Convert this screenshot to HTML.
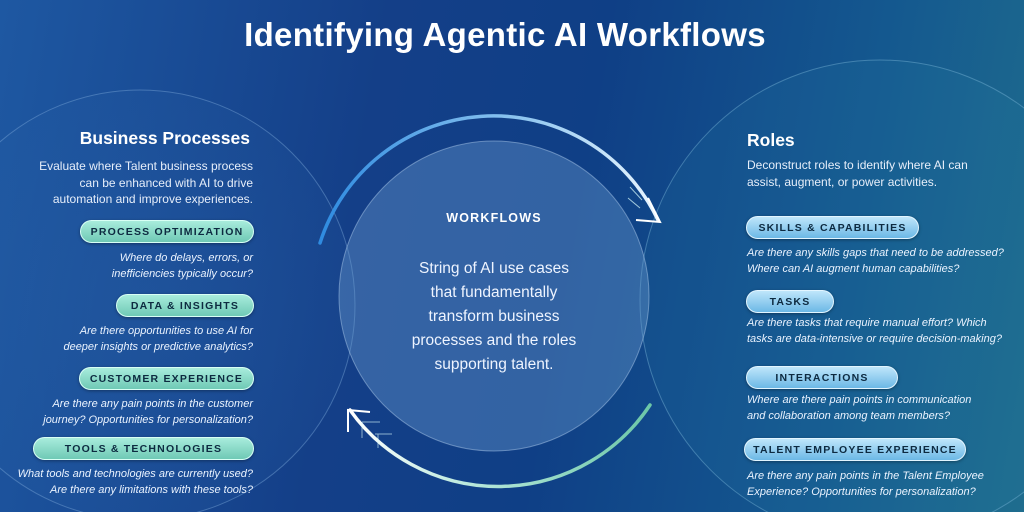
<!DOCTYPE html>
<html style="overflow:hidden;width:1024px;height:512px"><head><meta charset="utf-8"><style>
*{margin:0;padding:0;box-sizing:border-box}
body{width:1024px;height:512px;overflow:hidden;position:relative;font-family:"Liberation Sans","DejaVu Sans",sans-serif;color:#fff;
background:linear-gradient(100deg,#1e58a2 0%,#143f88 35%,#0f3f86 55%,#14588f 80%,#1f6d8e 100%);}
.t{position:absolute;white-space:nowrap}
.pill{position:absolute;height:23px;border-radius:12px;font-weight:bold;font-size:10.5px;letter-spacing:1.2px;color:#0d2a40;display:flex;align-items:center;justify-content:center;box-shadow:0 1px 3px rgba(0,0,0,.35)}
.g{background:linear-gradient(180deg,#a8ecdc,#6fc9b5);border:1.5px solid #d8fff5}
.b{background:linear-gradient(180deg,#bfe6fb,#6cb8e6);border:1.5px solid #e2f5ff}
.q{font-style:italic;font-size:11px;line-height:15.5px;color:#eaf3ff}
.r{text-align:right}
</style></head><body>
<svg width="1024" height="512" style="position:absolute;left:0;top:0">
<defs>
<linearGradient id="a1" x1="0" x2="1"><stop offset="0" stop-color="#2f8be0"/><stop offset="0.6" stop-color="#8fc6f0"/><stop offset="1" stop-color="#eaf6ff"/></linearGradient>
<linearGradient id="a2" x1="1" x2="0"><stop offset="0" stop-color="#6cc7a8"/><stop offset="0.6" stop-color="#b8e8dc"/><stop offset="1" stop-color="#ffffff"/></linearGradient>
<radialGradient id="lc" cx="0.5" cy="0.5" r="0.5"><stop offset="0" stop-color="#2a62a8" stop-opacity=".35"/><stop offset="1" stop-color="#2a62a8" stop-opacity=".15"/></radialGradient>
</defs>
<circle cx="140" cy="305" r="215" fill="url(#lc)" stroke="#7aa6d8" stroke-opacity=".45" stroke-width="1"/>
<circle cx="880" cy="300" r="240" fill="#2a7fa8" fill-opacity=".15" stroke="#7ab6d8" stroke-opacity=".45" stroke-width="1"/>
<circle cx="494" cy="296" r="155" fill="#6a9cd0" fill-opacity=".4" stroke="#a9c8ea" stroke-opacity=".5"/>
<path d="M320 243 A182 182 0 0 1 658 220" fill="none" stroke="url(#a1)" stroke-width="3.5" stroke-linecap="round"/>
<path d="M648 198 L660 222 L636 220" fill="none" stroke="#fff" stroke-width="2"/>
<path d="M630 187 L642 200 M628 198 L640 208" stroke="#dff" stroke-width="1" opacity=".7"/>
<path d="M650 405 A182 182 0 0 1 350 410" fill="none" stroke="url(#a2)" stroke-width="3.5" stroke-linecap="round"/>
<path d="M348 432 L348 410 L370 412" fill="none" stroke="#fff" stroke-width="2"/>
<path d="M362 422 L380 422 M362 422 L362 438 M375 434 L392 434 M378 434 L378 448" stroke="#dff" stroke-width="1" opacity=".6"/>
</svg>
<div class="t" style="left:0;width:1010px;text-align:center;top:16px;font-size:33px;font-weight:bold;letter-spacing:.3px">Identifying Agentic AI Workflows</div>

<div class="t" style="left:60px;width:190px;text-align:right;top:128px;font-size:17.5px;font-weight:bold">Business Processes</div>
<div class="t r" style="right:771px;top:158px;font-size:12px;line-height:16.5px;color:#e6eefa">Evaluate where Talent business process<br>can be enhanced with AI to drive<br>automation and improve experiences.</div>
<div class="pill g" style="left:80px;top:220px;width:174px">PROCESS OPTIMIZATION</div>
<div class="t q r" style="right:771px;top:251px">Where do delays, errors, or<br>inefficiencies typically occur?</div>
<div class="pill g" style="left:116px;top:294px;width:138px">DATA &amp; INSIGHTS</div>
<div class="t q r" style="right:771px;top:324px">Are there opportunities to use AI for<br>deeper insights or predictive analytics?</div>
<div class="pill g" style="left:79px;top:367px;width:175px">CUSTOMER EXPERIENCE</div>
<div class="t q r" style="right:771px;top:397px">Are there any pain points in the customer<br>journey? Opportunities for personalization?</div>
<div class="pill g" style="left:33px;top:437px;width:221px">TOOLS &amp; TECHNOLOGIES</div>
<div class="t q r" style="right:771px;top:467px">What tools and technologies are currently used?<br>Are there any limitations with these tools?</div>

<div class="t" style="left:0;width:988px;text-align:center;top:211px;font-size:12.5px;font-weight:bold;letter-spacing:1.2px">WORKFLOWS</div>
<div class="t" style="left:0;width:988px;text-align:center;top:257px;font-size:15.5px;line-height:24px;color:#eef4ff">String of AI use cases<br>that fundamentally<br>transform business<br>processes and the roles<br>supporting talent.</div>

<div class="t" style="left:747px;top:130px;font-size:17.5px;font-weight:bold">Roles</div>
<div class="t" style="left:747px;top:157px;font-size:12px;line-height:17px;color:#e6eefa">Deconstruct roles to identify where AI can<br>assist, augment, or power activities.</div>
<div class="pill b" style="left:746px;top:216px;width:173px">SKILLS &amp; CAPABILITIES</div>
<div class="t q" style="left:747px;top:246px">Are there any skills gaps that need to be addressed?<br>Where can AI augment human capabilities?</div>
<div class="pill b" style="left:746px;top:290px;width:88px">TASKS</div>
<div class="t q" style="left:747px;top:316px">Are there tasks that require manual effort? Which<br>tasks are data-intensive or require decision-making?</div>
<div class="pill b" style="left:746px;top:366px;width:152px">INTERACTIONS</div>
<div class="t q" style="left:747px;top:393px">Where are there pain points in communication<br>and collaboration among team members?</div>
<div class="pill b" style="left:744px;top:438px;width:222px">TALENT EMPLOYEE EXPERIENCE</div>
<div class="t q" style="left:747px;top:469px">Are there any pain points in the Talent Employee<br>Experience? Opportunities for personalization?</div>
</body></html>
